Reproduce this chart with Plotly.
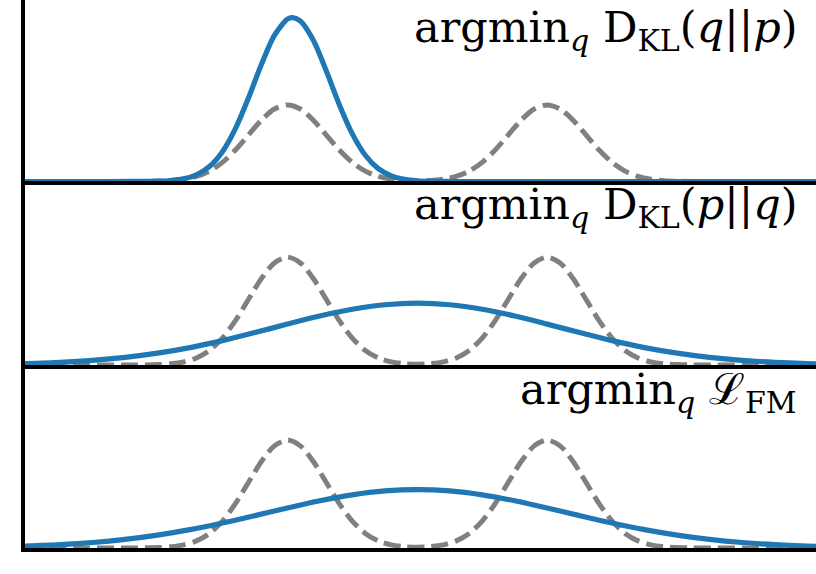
import plotly.graph_objects as go
from plotly.subplots import make_subplots

# ---- data (x in data units, y relative to the dashed-mode peak) ----
DASH_X = [-6.04, -5.2, -4.6, -4.4, -4.2,
          -4.0, -3.8, -3.6, -3.4, -3.2, -3.0, -2.8, -2.6, -2.4, -2.2,
          -2.0, -1.8, -1.6, -1.4, -1.2, -1.0, -0.8, -0.6, -0.4, -0.2,
          0.0, 0.2, 0.4, 0.6, 0.8, 1.0, 1.2, 1.4, 1.6, 1.8,
          2.0, 2.2, 2.4, 2.6, 2.8, 3.0, 3.2, 3.4, 3.6, 3.8,
          4.0, 4.2, 4.4, 4.6, 5.2, 6.14]
DASH_Y = [0.0, 0.0, 0.0001, 0.0003, 0.0012,
          0.0039, 0.0111, 0.0286, 0.0657, 0.1353, 0.2494, 0.4111, 0.6065, 0.8007, 0.946,
          1.0, 0.946, 0.8007, 0.6065, 0.4111, 0.2494, 0.1353, 0.0658, 0.0289, 0.0123,
          0.0077, 0.0123, 0.0289, 0.0658, 0.1353, 0.2494, 0.4111, 0.6065, 0.8007, 0.946,
          1.0, 0.946, 0.8007, 0.6065, 0.4111, 0.2494, 0.1353, 0.0657, 0.0286, 0.0111,
          0.0039, 0.0012, 0.0003, 0.0001, 0.0, 0.0]

BLUE1_X = [-6.04, -5.0, -4.4, -4.2,
           -4.0, -3.8, -3.6, -3.4, -3.2, -3.0, -2.8, -2.6, -2.4, -2.2, -2.0,
           -1.92,
           -1.8, -1.6, -1.4, -1.2, -1.0, -0.8, -0.6, -0.4, -0.2, 0.0, 0.2, 0.4, 0.6,
           1.2, 6.14]
BLUE1_Y = [0.0, 0.0, 0.0003, 0.001,
           0.0038, 0.0122, 0.0346, 0.0872, 0.1954, 0.3895, 0.6906, 1.089, 1.528, 1.908, 2.120,
           2.14,
           2.095, 1.843, 1.442, 1.003, 0.6214, 0.3424, 0.1678, 0.0732, 0.0284, 0.0098, 0.003, 0.0008, 0.0002,
           0.0, 0.0]

WIDE_X = [-6.04, -5.5, -5.0, -4.5, -4.0, -3.5, -3.0, -2.5, -2.0, -1.5, -1.0, -0.5, 0.0,
          0.5, 1.0, 1.5, 2.0, 2.5, 3.0, 3.5, 4.0, 4.5, 5.0, 5.5, 6.0, 6.14]
BLUE2_Y = [0.0132, 0.0252, 0.0433, 0.0707, 0.1097, 0.1616, 0.2261, 0.3004, 0.3790, 0.4542, 0.5168, 0.5584, 0.573,
           0.5584, 0.5168, 0.4542, 0.3790, 0.3004, 0.2261, 0.1616, 0.1097, 0.0707, 0.0433, 0.0252, 0.0139, 0.0117]
BLUE3_Y = [0.0172, 0.0310, 0.0509, 0.0798, 0.1192, 0.1700, 0.2311, 0.2997, 0.3707, 0.4373, 0.4922, 0.5284, 0.541,
           0.5284, 0.4922, 0.4373, 0.3707, 0.2997, 0.2311, 0.1700, 0.1192, 0.0798, 0.0509, 0.0310, 0.0180, 0.0153]

LABELS = [
    "argmin<sub><i>q</i></sub> D<sub>KL</sub>(<i>q</i>||<i>p</i>)",
    "argmin<sub><i>q</i></sub> D<sub>KL</sub>(<i>p</i>||<i>q</i>)",
    "argmin<sub><i>q</i></sub> \u2112<sub>FM</sub>",
]
Y_TOPS = [2.37, 1.70, 1.695]
X_RANGE = [-6.04, 6.14]

BLUE = "#1f77b4"
GRAY = "#808080"

fig = make_subplots(rows=3, cols=1, shared_xaxes=True, vertical_spacing=0)

blues = [(BLUE1_X, BLUE1_Y), (WIDE_X, BLUE2_Y), (WIDE_X, BLUE3_Y)]
for i in range(3):
    r = i + 1
    fig.add_trace(go.Scatter(x=DASH_X, y=DASH_Y, mode="lines",
                             line=dict(color=GRAY, width=5, dash="17px,7px", shape="spline", smoothing=0.8),
                             showlegend=False, hoverinfo="skip"), row=r, col=1)
    bx, by = blues[i]
    fig.add_trace(go.Scatter(x=bx, y=by, mode="lines",
                             line=dict(color=BLUE, width=5.2, shape="spline", smoothing=0.8),
                             showlegend=False, hoverinfo="skip"), row=r, col=1)

domains = [[0.6688, 1.0], [0.3339, 0.6688], [0.0, 0.3339]]
for i in range(3):
    sfx = "" if i == 0 else str(i + 1)
    fig.layout["xaxis" + sfx].update(range=X_RANGE, showline=True, linewidth=4.2, linecolor="black",
                                     showticklabels=False, ticks="", showgrid=False, zeroline=False)
    fig.layout["yaxis" + sfx].update(range=[0, Y_TOPS[i]], domain=domains[i], showline=True, linewidth=4.2,
                                     linecolor="black", showticklabels=False, ticks="", showgrid=False, zeroline=False)

ann_y = [1.0, 0.86, 0.855]
ann_anchor = ["top", "middle", "middle"]
for i in range(3):
    sfx = "" if i == 0 else str(i + 1)
    fig.add_annotation(text=LABELS[i], xref="x" + sfx + " domain", yref="y" + sfx + " domain",
                       x=0.978, y=ann_y[i], xanchor="right", yanchor=ann_anchor[i], showarrow=False,
                       font=dict(family="DejaVu Serif", size=43, color="black"))

fig.update_layout(width=816, height=574, margin=dict(l=25, r=0, t=0, b=26),
                  paper_bgcolor="white", plot_bgcolor="white")

fig.write_html("out.html", config={"displayModeBar": False},
               post_script="document.body.style.margin='0';document.body.style.overflow='hidden';")
